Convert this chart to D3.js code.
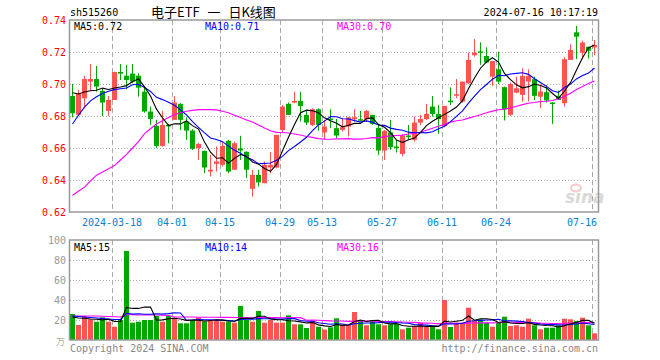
<!DOCTYPE html>
<html>
<head>
<meta charset="utf-8">
<script src="https://cdn.jsdelivr.net/npm/d3@7"></script>
<style>
body { margin: 0; background: #fff; }
text { font-family: "DejaVu Sans Mono", monospace; font-size: 10px; }
</style>
</head>
<body>
<svg id="chart" width="660" height="360"></svg>
<script>
// trading days shown on the chart
var dates = ["03-07","03-08","03-11","03-12","03-13","03-14","03-15","03-18","03-19","03-20","03-21","03-22","03-25","03-26","03-27","03-28","03-29",
  "04-01","04-02","04-03","04-08","04-09","04-10","04-11","04-12","04-15","04-16","04-17","04-18","04-19","04-22","04-23","04-24","04-25","04-26","04-29","04-30",
  "05-06","05-07","05-08","05-09","05-10","05-13","05-14","05-15","05-16","05-17","05-20","05-21","05-22","05-23","05-24","05-27","05-28","05-29","05-30","05-31",
  "06-03","06-04","06-05","06-06","06-07","06-11","06-12","06-13","06-14","06-17","06-18","06-19","06-20","06-21","06-24","06-25","06-26","06-27","06-28",
  "07-01","07-02","07-03","07-04","07-05","07-08","07-09","07-10","07-11","07-12","07-15","07-16"]

var tickDates = ["03-18","04-01","04-15","04-29","05-13","05-27","06-11","06-24","07-16"]

var open = [.6925,.6807,.6911,.7015,.7031,.6957,.6832,.6900,.7075,.7052,.7065,.7052,.6952,.6828,.6738,.6613,.6744,.6776,.6876,.6765,
  .6709,.6599,.6582,.6453,.6501,.6495,.6645,.6464,.6597,.6576,.6345,.6432,.6380,.6478,.6478,.6713,.6876,.6884,.6894,.6807,
  .6744,.6842,.6697,.6784,.6724,.6713,.6734,.6780,.6780,.6780,.6807,.6726,.6584,.6697,.6609,.6563,.6678,.6651,.6759,.6780,
  .6859,.6813,.6738,.6896,.6928,.6890,.7004,.7180,.7204,.7175,.7046,.7092,.6980,.6807,.6946,.6932,.7015,.7030,.6921,.6949,
  .6884,.6926,.6880,.7150,.7323,.7196,.7233,.7229]
var high = [.7000,.6963,.7052,.7125,.7113,.6973,.6925,.7077,.7125,.7119,.7125,.7067,.6984,.6859,.6776,.6832,.6750,.6925,.6880,.6792,
  .6717,.6630,.6585,.6557,.6609,.6640,.6651,.6640,.6676,.6580,.6464,.6464,.6516,.6574,.6682,.6869,.6884,.6952,.6952,.6832,
  .6848,.6848,.6776,.6842,.6782,.6786,.6792,.6842,.6832,.6838,.6807,.6744,.6713,.6776,.6651,.6686,.6744,.6796,.6807,.6876,
  .6925,.6867,.6863,.6979,.7031,.7015,.7196,.7281,.7260,.7229,.7144,.7202,.6984,.7009,.7046,.7098,.7092,.7046,.6998,.6994,
  .6888,.6959,.7167,.7248,.7363,.7271,.7233,.7275]
var low = [.6792,.6800,.6848,.6960,.6952,.6800,.6800,.6900,.7025,.6967,.7004,.6921,.6821,.6744,.6599,.6609,.6630,.6776,.6713,.6651,
  .6588,.6526,.6443,.6422,.6453,.6484,.6443,.6464,.6526,.6412,.6297,.6360,.6380,.6443,.6474,.6692,.6807,.6880,.6765,.6744,
  .6738,.6709,.6655,.6724,.6661,.6703,.6672,.6765,.6765,.6765,.6744,.6557,.6526,.6588,.6572,.6547,.6651,.6640,.6744,.6776,
  .6796,.6688,.6730,.6869,.6911,.6884,.7000,.7171,.7119,.7130,.6988,.7000,.6772,.6800,.6942,.6890,.6890,.6900,.6849,.6884,
  .6751,.6900,.6859,.7150,.7155,.7155,.7160,.7181]
var close = [.6817,.6942,.7031,.7031,.6984,.6884,.6900,.7075,.7065,.7025,.7015,.6977,.6828,.6782,.6613,.6744,.6736,.6884,.6776,.6709,
  .6595,.6626,.6478,.6464,.6516,.6613,.6453,.6630,.6584,.6464,.6432,.6385,.6495,.6495,.6682,.6859,.6807,.6894,.6863,.6759,
  .6842,.6744,.6734,.6776,.6678,.6730,.6792,.6792,.6772,.6832,.6751,.6584,.6707,.6605,.6601,.6678,.6668,.6759,.6782,.6813,
  .6813,.6780,.6863,.6888,.6936,.7015,.7150,.7196,.7196,.7134,.7144,.7015,.6842,.7000,.6973,.7051,.7051,.6926,.6953,.6897,
  .6876,.6900,.7155,.7213,.7296,.7259,.7208,.7244]

// volume, 万手
var volume = [26,15,24,20.7,18.3,22.7,18.3,13.3,20,89,
  17.3,18.3,20,20,24,18.3,24,22.3,16.7,16.7,
  20,22.7,18.3,20,20,18.3,18.3,17.3,34,20,
  18.3,29,17.3,20,17.3,17.3,24.7,15.7,15.7,12,
  19,13.3,10.5,12.7,21.7,15,15,28,20,14.7,
  20,15.7,14.7,15.7,15.7,10.7,12.3,14,17.3,13,
  13,10.7,40,13,17.3,17.3,32.3,19,20.7,17.3,
  13.3,17.3,23.3,14,14.7,13.3,21.3,14.7,10.7,12.3,
  12.3,14.7,21.3,20.7,19,22.3,14.7,6.7]

// moving average values at the left edge (they need days before the window)
var ma5Lead = [.6945,.6938,.6950,.6958]
var ma10Lead = [.6750,.6805,.6855,.6895,.6920,.6940,.6955,.6965,.6970]
var ma30Lead = [.6305,.6330,.6355,.6395,.6430,.6450,.6470,.6490,.6525,.6560,.6600,.6640,.6690,.6720,.6750,.6770,.6790,.6810,.6820,.6830,
  .6835,.6840,.6840,.6840,.6838,.6830,.6820,.6805,.6790]
var vma5Lead = [23,22,21.7,21]
var vma10Lead = [24,23.5,23,22.5,22,21.5,21,20.5,20.5]
var vma30Lead = [24,24,24,24,24,23.8,23.5,23.2,23,25.2,25.2,25,25,25,25,24.8,24.5,23,23,23,23,22.8,22.8,22.7,22.7,22.6,22.6,22.5,22.5]

var priceTicks = [0.74, 0.72, 0.70, 0.68, 0.66, 0.64, 0.62]
var volTicks = [100, 80, 60, 40, 20]

var UP = "#ff5252", DOWN = "#00a800", GRID = "#aaa", FRAME = "#999"
var left = 70, right = 598
var pTop = 20, pBot = 212, vTop = 240, vBot = 340

function movAvg(vals, n, lead) {
  return vals.map(function(v, i) {
    if (i < n - 1) return lead[i]
    return d3.mean(vals.slice(i - n + 1, i + 1))
  })
}

var svg = d3.select("#chart")
var idx = d3.range(dates.length)

var x = d3.scaleBand()
  .domain(idx)
  .range([left, left + 6 * dates.length - 1])
  .paddingInner(1 / 6)
  .paddingOuter(0)
  .align(0)
var bw = x.bandwidth()

var yP = d3.scaleLinear().domain([0.62, 0.74]).range([pBot, pTop])
var yV = d3.scaleLinear().domain([0, 100]).range([vBot, vTop])

var tickIdx = tickDates.map(function(d) { return dates.indexOf(d) })

// header
svg.append("text").attr("x", 70).attr("y", 16).text("sh515260")
svg.append("text").attr("x", 151).attr("y", 17)
  .style("font-family", "'Noto Sans CJK SC', sans-serif").style("font-size", "13px")
  .style("word-spacing", "5px")
  .text("电子ETF 一 日K线图")
svg.append("text").attr("x", 598).attr("y", 16).attr("text-anchor", "end").text("2024-07-16 10:17:19")

// grids
function grid(top, bot, ticks, yScale) {
  svg.append("g").selectAll("line").data(ticks).enter().append("line")
    .attr("x1", left).attr("x2", right)
    .attr("y1", function(d) { return Math.round(yScale(d)) + 0.5 })
    .attr("y2", function(d) { return Math.round(yScale(d)) + 0.5 })
    .attr("stroke", GRID).attr("stroke-dasharray", "1,2")
  svg.append("g").selectAll("line").data(tickIdx).enter().append("line")
    .attr("x1", function(i) { return x(i) + 0.5 }).attr("x2", function(i) { return x(i) + 0.5 })
    .attr("y1", top).attr("y2", bot)
    .attr("stroke", GRID).attr("stroke-dasharray", "5,3")
}
grid(pTop, pBot, priceTicks.slice(1, -1), yP)
grid(vTop, vBot, volTicks.slice(1), yV)

// price axis labels
svg.append("g").selectAll("text").data(priceTicks).enter().append("text")
  .attr("x", 66).attr("y", function(d) { return yP(d) + 4 })
  .attr("text-anchor", "end").attr("fill", "#f00")
  .text(function(d) { return d.toFixed(2) })

// volume axis labels
svg.append("g").selectAll("text").data(volTicks).enter().append("text")
  .attr("x", 66).attr("y", function(d) { return yV(d) + 4 })
  .attr("text-anchor", "end").attr("fill", "#999")
  .text(function(d) { return d })
svg.append("text").attr("x", 65).attr("y", 345).attr("text-anchor", "end").attr("fill", "#aaa")
  .style("font-family", "'Noto Sans CJK SC', sans-serif").style("font-size", "9px").text("万")

// date labels
svg.append("g").selectAll("text").data(tickIdx).enter().append("text")
  .attr("fill", "#0a80d0")
  .attr("y", 226)
  .each(function(i, k) {
    var label = k == 0 ? "2024-" + dates[i] : dates[i]
    var w = label.length * 6
    var cx = x(i)
    var el = d3.select(this).text(label)
    if (cx + w / 2 > right) el.attr("x", right - 1).attr("text-anchor", "end")
    else el.attr("x", cx).attr("text-anchor", "middle")
  })

// sina watermark
var wm = svg.append("g").attr("opacity", 0.55)
wm.append("ellipse").attr("cx", 576).attr("cy", 188).attr("rx", 5).attr("ry", 3.5)
  .attr("fill", "none").attr("stroke", "#f4a0a0").attr("stroke-width", 2)
wm.append("text").attr("x", 565).attr("y", 203)
  .style("font-family", "'DejaVu Sans', sans-serif").style("font-size", "17px")
  .style("font-style", "italic").style("font-weight", "bold")
  .attr("fill", "#bbb").text("sina")

// candles
var candles = svg.append("g").selectAll("g").data(idx).enter().append("g")
  .attr("fill", function(i) { return close[i] >= open[i] ? UP : DOWN })
candles.append("rect")
  .attr("x", function(i) { return x(i) + 2 }).attr("width", 1)
  .attr("y", function(i) { return yP(high[i]) })
  .attr("height", function(i) { return Math.max(1, yP(low[i]) - yP(high[i])) })
candles.append("rect")
  .attr("x", function(i) { return x(i) }).attr("width", bw)
  .attr("y", function(i) { return yP(Math.max(open[i], close[i])) })
  .attr("height", function(i) { return Math.max(1.5, Math.abs(yP(open[i]) - yP(close[i]))) })

// volume bars
svg.append("g").selectAll("rect").data(idx).enter().append("rect")
  .attr("x", function(i) { return x(i) }).attr("width", bw)
  .attr("y", function(i) { return yV(volume[i]) })
  .attr("height", function(i) { return yV(0) - yV(volume[i]) })
  .attr("fill", function(i) { return close[i] >= open[i] ? UP : DOWN })

// moving averages
function maLine(vals, yScale, color) {
  var line = d3.line().x(function(d, i) { return x(i) + 2.5 }).y(function(d) { return yScale(d) })
  svg.append("path").datum(vals).attr("d", line)
    .attr("fill", "none").attr("stroke", color).attr("stroke-width", 1.1)
}
maLine(movAvg(close, 30, ma30Lead), yP, "#f0f")
maLine(movAvg(close, 10, ma10Lead), yP, "#00f")
maLine(movAvg(close, 5, ma5Lead), yP, "#000")
maLine(movAvg(volume, 30, vma30Lead), yV, "#f0f")
maLine(movAvg(volume, 10, vma10Lead), yV, "#00f")
maLine(movAvg(volume, 5, vma5Lead), yV, "#000")

// frames
svg.append("rect").attr("x", left - 0.5).attr("y", pTop).attr("width", right - left + 1).attr("height", pBot - pTop)
  .attr("fill", "none").attr("stroke", FRAME).attr("stroke-width", 1.5)
svg.append("rect").attr("x", left - 0.5).attr("y", vTop).attr("width", right - left + 1).attr("height", vBot - vTop)
  .attr("fill", "none").attr("stroke", FRAME).attr("stroke-width", 1.5)

// legends
function legend(y, items) {
  var xs = [74, 205, 337], cols = ["#000", "#00f", "#f0f"]
  items.forEach(function(t, k) {
    svg.append("text").attr("x", xs[k]).attr("y", y).attr("fill", cols[k]).text(t)
  })
}
legend(30, ["MA5:0.72", "MA10:0.71", "MA30:0.70"])
legend(251, ["MA5:15", "MA10:14", "MA30:16"])

// footer
svg.append("text").attr("x", 70).attr("y", 352).attr("fill", "#888").text("Copyright 2024 SINA.COM")
svg.append("text").attr("x", 598).attr("y", 352).attr("text-anchor", "end").attr("fill", "#888").text("http://finance.sina.com.cn")
</script>
</body>
</html>
